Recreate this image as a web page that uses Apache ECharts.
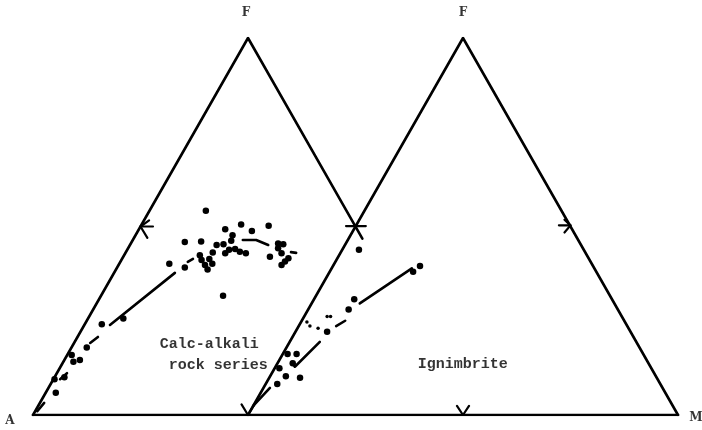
<!DOCTYPE html>
<html>
<head>
<meta charset="utf-8">
<script src="https://cdn.jsdelivr.net/npm/echarts@6/dist/echarts.min.js"></script>
<style>
  html, body { margin: 0; padding: 0; background: #fff; }
  #chart { width: 702px; height: 430px; }
</style>
</head>
<body>
<div id="chart"></div>
<script>
// x runs along the base line (0..150), y is height above it (0..100).
// left AFM triangle: A(0,0) F(50,100) M(100,0); right one is shifted by 50.

var calcAlkali = [
  [40.2, 54.2], [44.7, 49.3], [48.4, 50.5], [50.9, 48.8], [54.8, 50.2],
  [35.3, 45.9], [39.1, 46.0], [46.4, 47.7], [46.1, 46.2], [42.7, 45.1],
  [44.3, 45.3], [45.6, 43.8], [47.0, 44.0], [48.1, 43.3], [49.5, 42.9],
  [44.7, 42.9], [57.0, 45.5], [58.2, 45.3], [57.0, 44.2], [57.8, 42.9],
  [55.1, 42.0], [59.4, 41.6], [58.6, 40.7], [57.8, 39.8], [38.8, 42.4],
  [39.2, 41.1], [41.0, 41.4], [40.0, 39.8], [40.6, 38.6], [41.7, 40.1],
  [41.8, 43.1], [35.3, 39.1], [31.7, 40.1], [44.2, 31.6],
  [21.0, 25.6], [16.0, 24.1], [12.5, 17.9], [9.0, 15.9], [9.4, 14.1],
  [10.9, 14.6], [7.3, 10.0], [5.0, 9.5], [5.3, 5.9]
];

var ignimbrite = [
  [75.8, 43.8], [88.4, 38.0], [90.0, 39.5], [74.7, 30.7], [73.4, 28.0],
  [68.4, 22.1], [59.2, 16.2], [61.3, 16.2], [60.4, 13.7], [57.3, 12.4],
  [58.8, 10.3], [62.1, 9.9], [56.8, 8.2]
];

var ignimbriteSmall = [
  [68.4, 26.1], [69.2, 26.1], [63.7, 24.7], [64.4, 23.6], [66.3, 23.0]
];

// hand-drawn dashed trend lines, one entry per dash
var calcAlkaliTrend = [
  [[1.0, 1.0], [2.6, 3.2]],
  [[6.3, 9.5], [7.9, 11.1]],
  [[13.3, 19.1], [15.1, 20.7]],
  [[17.9, 23.9], [33.0, 37.7]],
  [[36.0, 40.6], [37.2, 41.4]],
  [[48.8, 46.4], [51.9, 46.4], [54.7, 45.1]],
  [[60.0, 43.2], [61.2, 43.0]]
];

var ignimbriteTrend = [
  [[51.2, 2.4], [55.1, 7.2]],
  [[60.2, 14.1], [60.9, 12.8], [66.7, 19.4]],
  [[70.5, 23.6], [72.6, 25.0]],
  [[76.0, 29.6], [88.1, 38.9]]
];

// triangle frames and the little 50% marks
var frame = [
  [[0, 0], [150, 0]],
  [[0, 0], [50, 100], [76.6, 46.8]],
  [[50, 0], [100, 100], [150, 0]]
];
var ticks = [
  [[27.9, 50], [25, 50]], [[27.0, 51.6], [25, 50], [26.6, 47.0]],
  [[72.8, 50.1], [77.4, 50.1]],
  [[122.3, 50.3], [125, 50.3]], [[123.6, 51.8], [125, 50.3], [123.6, 48.4]],
  [[48.5, 2.8], [50, 0], [51.5, 2.8]],
  [[98.6, 2.4], [100, 0], [101.4, 2.4]]
];

var vertexLabels = [
  { name: "F", value: [50, 100], off: [-2, -25] },
  { name: "F", value: [100, 100], off: [0, -25] },
  { name: "A", value: [0, 0], off: [-23, 6] },
  { name: "M", value: [150, 0], off: [18, 3] }
];
var fieldLabels = [
  { name: "Calc-alkali\n rock series", value: [29.5, 16.0] },
  { name: "Ignimbrite", value: [89.5, 13.6] }
];

var myChart = echarts.init(document.getElementById("chart"));

function dashes(list, width) {
  return {
    type: "lines",
    coordinateSystem: "cartesian2d",
    polyline: true,
    silent: true,
    lineStyle: { color: "#000", width: width, opacity: 1, cap: "round", join: "round" },
    data: list.map(function (c) { return { coords: c }; })
  };
}

function dots(list, size) {
  return {
    type: "scatter",
    symbol: "circle",
    symbolSize: size,
    silent: true,
    itemStyle: { color: "#000", opacity: 1 },
    data: list
  };
}

var option = {
  backgroundColor: "#fff",
  animation: false,
  grid: { left: 33, right: 24, top: 38, bottom: 15 },
  xAxis: { type: "value", min: 0, max: 150, show: false },
  yAxis: { type: "value", min: 0, max: 100, show: false },
  series: [
    dashes(frame, 2.6),
    dashes(ticks, 2.2),
    dashes(calcAlkaliTrend, 2.6),
    dashes(ignimbriteTrend, 2.6),
    dots(calcAlkali, 6.5),
    dots(ignimbrite, 6.5),
    dots(ignimbriteSmall, 3.5),
    {
      type: "scatter",
      symbolSize: 0,
      silent: true,
      label: {
        show: true,
        position: "inside",
        formatter: "{b}",
        color: "#000",
        fontFamily: "DejaVu Serif",
        fontWeight: "bold",
        fontSize: 12
      },
      data: vertexLabels.map(function (d) {
        return { name: d.name, value: d.value, label: { offset: d.off } };
      })
    },
    {
      type: "scatter",
      symbolSize: 0,
      silent: true,
      label: {
        show: true,
        position: "right",
        distance: 0,
        formatter: "{b}",
        color: "#000",
        fontFamily: "Liberation Mono",
        fontWeight: "bold",
        fontSize: 15,
        lineHeight: 21
      },
      data: fieldLabels
    }
  ]
};

option && myChart.setOption(option);
</script>
</body>
</html>
